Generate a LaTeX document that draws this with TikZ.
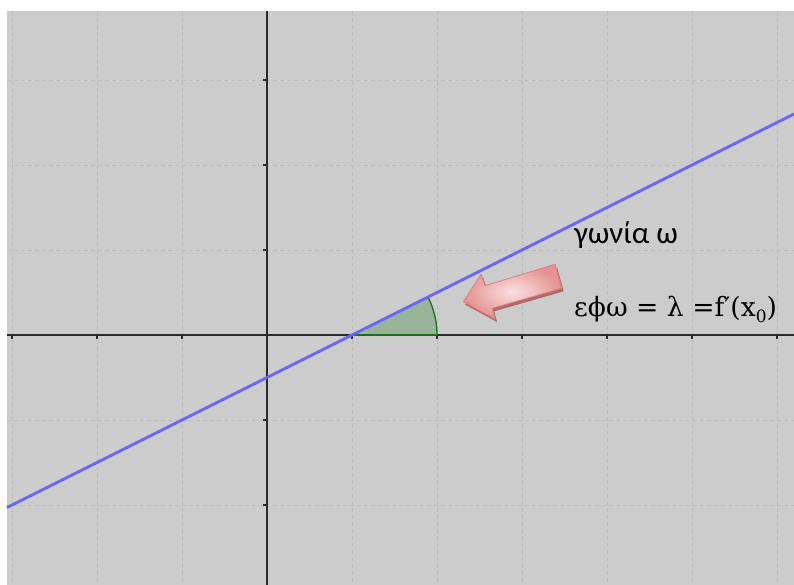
\documentclass[tikz,border=0pt]{standalone}
\usepackage{fontspec}
\setmainfont{Carlito}
\newfontfamily\mathlike{DejaVu Serif}
\definecolor{bggray}{HTML}{CCCCCC}
\definecolor{gridgray}{HTML}{BDBDBD}
\definecolor{axisdark}{HTML}{2A2A2A}
\definecolor{lineblue}{HTML}{6666FF}
\definecolor{anglefill}{HTML}{99B399}
\definecolor{angleline}{HTML}{1E6E1E}
\definecolor{arrowedge}{HTML}{D98080}
\definecolor{arrowshadow}{HTML}{B06A6A}
\tikzset{
  gridline/.style={gridgray, line width=0.7pt, dash pattern=on 4pt off 3pt},
  axisline/.style={axisdark, line width=1.8pt},
  tickmark/.style={axisdark, line width=1.3pt},
  tangent/.style={lineblue, line width=2.8pt},
  label/.style={inner sep=0pt, anchor=base west, text=black}
}
\begin{document}
\begin{tikzpicture}[x=1pt,y=-1pt]
\useasboundingbox (0,0) rectangle (794,585);
\fill[white] (0,0) rectangle (794,585);
\fill[bggray] (7,11) rectangle (794,585);
% grid
\foreach \gx in {12,97,182,352,437,522,607,692,777}
  \draw[gridline] (\gx,11) -- (\gx,585);
\foreach \gy in {80,165,250,420,505}
  \draw[gridline] (7,\gy) -- (794,\gy);
% angle
\coordinate (P) at (352,335);
\coordinate (Q) at (437,335);
\fill[anglefill] (P) -- (Q) arc[start angle=0, end angle=-26.565, radius=85] -- cycle;
% axes
\coordinate (xl) at (7,335);
\coordinate (xr) at (794,335);
\coordinate (yt) at (267,11);
\coordinate (yb) at (267,585);
\draw[axisline] (xl) -- (xr);
\draw[axisline] (yt) -- (yb);
\foreach \gx in {12,97,182,267,352,437,522,607,692,777}
  \draw[tickmark] (\gx,335) -- (\gx,339);
\foreach \gy in {80,165,250,420,505}
  \draw[tickmark] (267,\gy) -- (263,\gy);
\draw[angleline, line width=1.3pt] (Q) arc[start angle=0, end angle=-26.565, radius=85];
\draw[angleline, line width=1.3pt] (P) -- (Q);
% tangent line
\coordinate (L1) at (7,507.5);
\coordinate (L2) at (794,114);
\draw[tangent] (L1) -- (L2);
% arrow
\fill[arrowshadow] ([shift={(2,3)}]463.3,301.7) -- ([shift={(2,3)}]481,274.3) -- ([shift={(2,3)}]485,285.7) -- ([shift={(2,3)}]555,264.3) -- ([shift={(2,3)}]561.7,288.3) -- ([shift={(2,3)}]492.3,308.3) -- ([shift={(2,3)}]495,319) -- cycle;
\shade[inner color={rgb,255:red,250;green,224;blue,224}, outer color={rgb,255:red,228;green,146;blue,146}, draw=arrowedge, line width=0.8pt]
  (463.3,301.7) -- (481,274.3) -- (485,285.7) -- (555,264.3) -- (561.7,288.3) -- (492.3,308.3) -- (495,319) -- cycle;
% labels
\node[label, font=\fontsize{31}{36}\selectfont] (gon) at (574,243.7) {γωνία ω};
\node[label, font=\mathlike\fontsize{26.6}{32}\selectfont] (eq) at (574,316) {εϕω = λ =f′(x\raisebox{-0.25em}{\fontsize{17}{20}\selectfont 0})};
\end{tikzpicture}
\end{document}
